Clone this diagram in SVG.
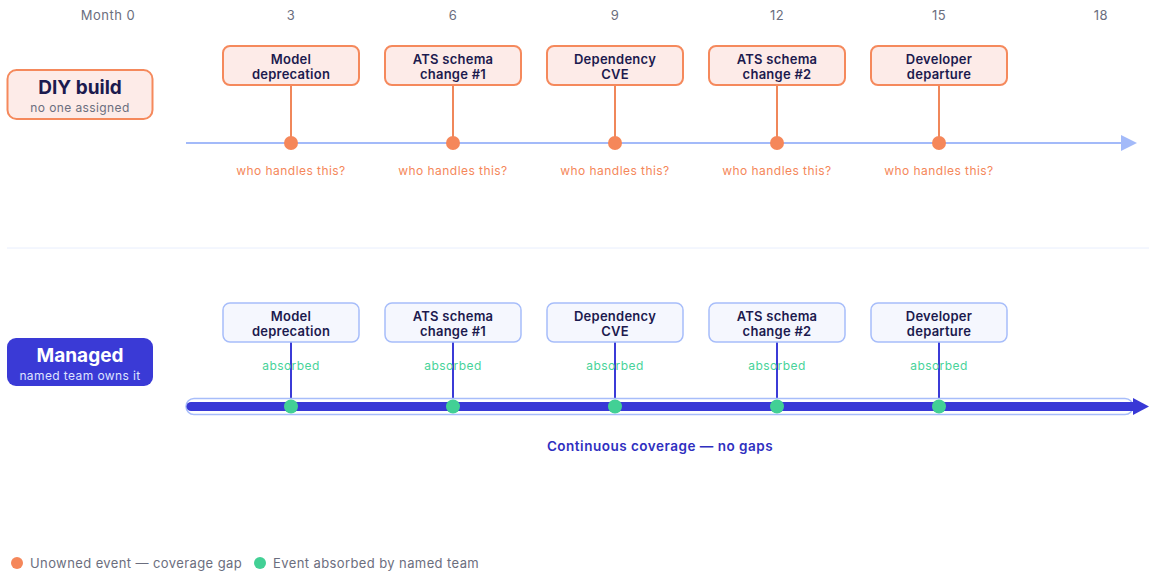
<svg xmlns="http://www.w3.org/2000/svg" width="1149" height="571" viewBox="0 0 1149 571">
  <defs>
    <style>
      text { font-family: Inter, "Noto Sans", "DejaVu Sans", sans-serif; }
      .month { font-size: 13px; fill: #6b6e7e; text-anchor: middle; letter-spacing: 0.5px; }
      .evt { font-size: 13px; font-weight: 600; fill: #1c1a4e; text-anchor: middle; letter-spacing: 0.25px; }
      .diy-box { fill: #fdebe8; stroke: #f5895c; stroke-width: 2; }
      .mgd-evt { fill: #f5f7fe; stroke: #a7bdfa; stroke-width: 1.5; }
      .stem-o { stroke: #f0875a; stroke-width: 2; }
      .stem-b { stroke: #3b3bd7; stroke-width: 2; }
      .dot-o { fill: #f5875a; }
      .dot-g { fill: #42d095; }
      .q { font-size: 12px; fill: #f5875a; text-anchor: middle; letter-spacing: 0.45px; }
      .abs { font-size: 12px; fill: #48d39a; text-anchor: middle; letter-spacing: 0.45px; }
      .legend { font-size: 13px; fill: #6b6e7e; letter-spacing: 0.4px; }
    </style>
    <marker id="arrow-light" viewBox="0 0 10 10" refX="0" refY="5" markerWidth="8" markerHeight="8" markerUnits="strokeWidth" orient="auto">
      <path d="M0,0 L10,5 L0,10 Z" fill="#a3baf9"/>
    </marker>
  </defs>

  <rect width="1149" height="571" fill="#ffffff"/>

  <!-- month scale -->
  <g id="months">
    <text class="month" x="108" y="20">Month 0</text>
    <text class="month" x="291" y="20">3</text>
    <text class="month" x="453" y="20">6</text>
    <text class="month" x="615" y="20">9</text>
    <text class="month" x="777" y="20">12</text>
    <text class="month" x="939" y="20">15</text>
    <text class="month" x="1101" y="20">18</text>
  </g>

  <!-- lane labels -->
  <g id="diy-label">
    <rect class="diy-box" x="7.5" y="70" width="145" height="49" rx="9"/>
    <text x="80" y="94" font-size="19" font-weight="700" fill="#1c1a4e" text-anchor="middle">DIY build</text>
    <text x="80" y="112" font-size="12" fill="#6b6e7e" text-anchor="middle" letter-spacing="0.4">no one assigned</text>
  </g>
  <g id="managed-label">
    <rect x="7" y="338" width="146" height="48" rx="9" fill="#3a3ad6"/>
    <text x="80" y="362" font-size="19" font-weight="700" fill="#ffffff" text-anchor="middle">Managed</text>
    <text x="80" y="380" font-size="12" fill="#dfe3ff" text-anchor="middle" letter-spacing="0.4">named team owns it</text>
  </g>

  <!-- connectors: axes, stems, divider -->
  <g id="connectors">
    <line x1="186" y1="143" x2="1121" y2="143" stroke="#a3baf9" stroke-width="2" marker-end="url(#arrow-light)"/>
    <line x1="7" y1="248" x2="1149" y2="248" stroke="#e8eefd" stroke-width="1"/>

    <line class="stem-o" x1="291" y1="85" x2="291" y2="143"/>
    <line class="stem-o" x1="453" y1="85" x2="453" y2="143"/>
    <line class="stem-o" x1="615" y1="85" x2="615" y2="143"/>
    <line class="stem-o" x1="777" y1="85" x2="777" y2="143"/>
    <line class="stem-o" x1="939" y1="85" x2="939" y2="143"/>

    <line class="stem-b" x1="291" y1="342" x2="291" y2="406"/>
    <line class="stem-b" x1="453" y1="342" x2="453" y2="406"/>
    <line class="stem-b" x1="615" y1="342" x2="615" y2="406"/>
    <line class="stem-b" x1="777" y1="342" x2="777" y2="406"/>
    <line class="stem-b" x1="939" y1="342" x2="939" y2="406"/>

    <rect x="186" y="398.5" width="947" height="16" rx="8" fill="#ffffff" stroke="#a7bdfa" stroke-width="1.5"/>
    <line x1="191" y1="406.5" x2="1134" y2="406.5" stroke="#3838d6" stroke-width="9" stroke-linecap="round"/>
    <path d="M1133,398 L1149,406.5 L1133,415 Z" fill="#3838d6"/>
  </g>

  <!-- DIY events -->
  <g id="diy-evt-1">
    <rect class="diy-box" x="223" y="46" width="136" height="39" rx="7"/>
    <text class="evt" x="291" y="64">Model</text>
    <text class="evt" x="291" y="79">deprecation</text>
  </g>
  <g id="diy-evt-2">
    <rect class="diy-box" x="385" y="46" width="136" height="39" rx="7"/>
    <text class="evt" x="453" y="64">ATS schema</text>
    <text class="evt" x="453" y="79">change #1</text>
  </g>
  <g id="diy-evt-3">
    <rect class="diy-box" x="547" y="46" width="136" height="39" rx="7"/>
    <text class="evt" x="615" y="64">Dependency</text>
    <text class="evt" x="615" y="79">CVE</text>
  </g>
  <g id="diy-evt-4">
    <rect class="diy-box" x="709" y="46" width="136" height="39" rx="7"/>
    <text class="evt" x="777" y="64">ATS schema</text>
    <text class="evt" x="777" y="79">change #2</text>
  </g>
  <g id="diy-evt-5">
    <rect class="diy-box" x="871" y="46" width="136" height="39" rx="7"/>
    <text class="evt" x="939" y="64">Developer</text>
    <text class="evt" x="939" y="79">departure</text>
  </g>

  <!-- DIY markers -->
  <g id="diy-markers">
    <circle class="dot-o" cx="291" cy="143" r="7"/>
    <circle class="dot-o" cx="453" cy="143" r="7"/>
    <circle class="dot-o" cx="615" cy="143" r="7"/>
    <circle class="dot-o" cx="777" cy="143" r="7"/>
    <circle class="dot-o" cx="939" cy="143" r="7"/>
    <text class="q" x="291" y="175">who handles this?</text>
    <text class="q" x="453" y="175">who handles this?</text>
    <text class="q" x="615" y="175">who handles this?</text>
    <text class="q" x="777" y="175">who handles this?</text>
    <text class="q" x="939" y="175">who handles this?</text>
  </g>

  <!-- Managed events -->
  <g id="mgd-evt-1">
    <rect class="mgd-evt" x="223" y="303" width="136" height="39" rx="7"/>
    <text class="evt" x="291" y="321">Model</text>
    <text class="evt" x="291" y="336">deprecation</text>
  </g>
  <g id="mgd-evt-2">
    <rect class="mgd-evt" x="385" y="303" width="136" height="39" rx="7"/>
    <text class="evt" x="453" y="321">ATS schema</text>
    <text class="evt" x="453" y="336">change #1</text>
  </g>
  <g id="mgd-evt-3">
    <rect class="mgd-evt" x="547" y="303" width="136" height="39" rx="7"/>
    <text class="evt" x="615" y="321">Dependency</text>
    <text class="evt" x="615" y="336">CVE</text>
  </g>
  <g id="mgd-evt-4">
    <rect class="mgd-evt" x="709" y="303" width="136" height="39" rx="7"/>
    <text class="evt" x="777" y="321">ATS schema</text>
    <text class="evt" x="777" y="336">change #2</text>
  </g>
  <g id="mgd-evt-5">
    <rect class="mgd-evt" x="871" y="303" width="136" height="39" rx="7"/>
    <text class="evt" x="939" y="321">Developer</text>
    <text class="evt" x="939" y="336">departure</text>
  </g>

  <!-- Managed markers -->
  <g id="mgd-markers">
    <text class="abs" x="291" y="370">absorbed</text>
    <text class="abs" x="453" y="370">absorbed</text>
    <text class="abs" x="615" y="370">absorbed</text>
    <text class="abs" x="777" y="370">absorbed</text>
    <text class="abs" x="939" y="370">absorbed</text>
    <circle class="dot-g" cx="291" cy="406.5" r="7"/>
    <circle class="dot-g" cx="453" cy="406.5" r="7"/>
    <circle class="dot-g" cx="615" cy="406.5" r="7"/>
    <circle class="dot-g" cx="777" cy="406.5" r="7"/>
    <circle class="dot-g" cx="939" cy="406.5" r="7"/>
  </g>

  <g id="coverage-note">
    <text x="660" y="451" font-size="13.5" font-weight="600" fill="#2f2fbf" text-anchor="middle" letter-spacing="0.5">Continuous coverage — no gaps</text>
  </g>

  <!-- legend -->
  <g id="legend">
    <circle cx="17" cy="563" r="6" fill="#f5875a"/>
    <text class="legend" x="30" y="567.5">Unowned event — coverage gap</text>
    <circle cx="260" cy="563" r="6" fill="#42d095"/>
    <text class="legend" x="273" y="567.5">Event absorbed by named team</text>
  </g>
</svg>
